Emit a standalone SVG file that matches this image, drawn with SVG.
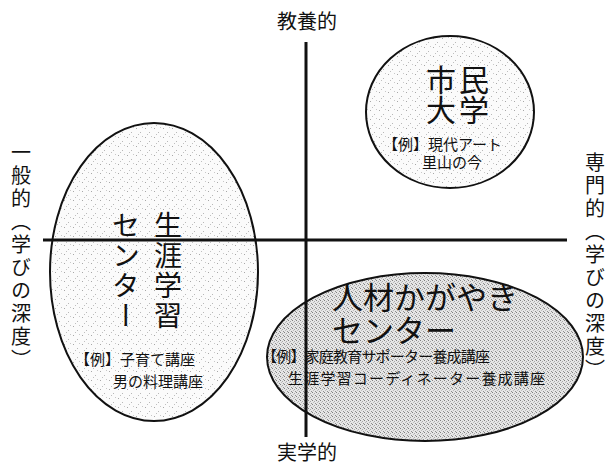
<svg xmlns="http://www.w3.org/2000/svg" width="611" height="467" viewBox="0 0 611 467">
<defs>
<pattern id="dotsL" width="9" height="9" patternUnits="userSpaceOnUse">
<rect width="9" height="9" fill="#fbfbfb"/>
<rect x="1" y="2" width="1" height="1" fill="#a8a8a8"/>
<rect x="5" y="6" width="1" height="1" fill="#b8b8b8"/>
<rect x="7" y="1" width="1" height="1" fill="#c8c8c8"/>
<rect x="3" y="8" width="1" height="1" fill="#c0c0c0"/>
</pattern>
<pattern id="dotsD" width="4" height="4" patternUnits="userSpaceOnUse">
<rect width="4" height="4" fill="#e6e6e6"/>
<rect x="0" y="0" width="1" height="1" fill="#808080"/>
<rect x="2" y="1" width="1" height="1" fill="#a8a8a8"/>
<rect x="3" y="3" width="1" height="1" fill="#909090"/>
<rect x="1" y="2" width="1" height="1" fill="#bcbcbc"/>
</pattern>
</defs>
<style>
.shape{stroke:#111;stroke-width:2}
.axis{stroke:#111;stroke-width:3;fill:none}
.title{font-family:"Noto Sans CJK JP","Noto Sans",sans-serif;fill:#111}
.ex{font-family:"Noto Sans CJK JP","Noto Sans",sans-serif;font-size:15px;fill:#111}
.lab{font-family:"Noto Sans CJK JP","Noto Sans",sans-serif;font-size:20px;fill:#111}
.vert{writing-mode:vertical-rl}
</style>
<rect width="611" height="467" fill="#fff"/>
<g id="node-shogai">
<ellipse class="shape" cx="154" cy="272" rx="104" ry="149" fill="url(#dotsL)"/>
</g>
<g id="node-shimin">
<ellipse class="shape" cx="450" cy="112" rx="84" ry="76" fill="url(#dotsL)"/>
</g>
<g id="node-jinzai">
<ellipse class="shape" cx="425" cy="357" rx="158" ry="84" fill="url(#dotsD)"/>
</g>
<g id="connectors">
<line class="axis" x1="306" y1="42" x2="306" y2="437"/>
<line class="axis" x1="43" y1="240" x2="567" y2="240"/>
</g>
<g id="labels">
<text class="lab" x="307" y="29" text-anchor="middle">教養的</text>
<text class="lab" x="307" y="460" text-anchor="middle">実学的</text>
<text class="lab vert" x="21" y="142" letter-spacing="3">一般的（学びの深度）</text>
<text class="lab vert" x="595" y="152" letter-spacing="3">専門的（学びの深度）</text>
</g>
<g id="text-shogai">
<text class="title vert" x="168" y="211" font-size="28" letter-spacing="2">生涯学習</text>
<text class="title vert" x="126" y="211" font-size="28" letter-spacing="2">センター</text>
<text class="ex" x="75" y="365">【例】子育て講座</text>
<text class="ex" x="113" y="387">男の料理講座</text>
</g>
<g id="text-shimin">
<text class="title" x="426" y="91" font-size="30" letter-spacing="3">市民</text>
<text class="title" x="426" y="121" font-size="30" letter-spacing="3">大学</text>
<text class="ex" x="383" y="150">【例】現代アート</text>
<text class="ex" x="422" y="168">里山の今</text>
</g>
<g id="text-jinzai">
<text class="title" x="332" y="309" font-size="31">人材かがやき</text>
<text class="title" x="332" y="342" font-size="31">センター</text>
<text class="ex" x="262" y="362" textLength="228" lengthAdjust="spacing">【例】家庭教育サポーター養成講座</text>
<text class="ex" x="288" y="384" textLength="257" lengthAdjust="spacing">生涯学習コーディネーター養成講座</text>
</g>
</svg>
